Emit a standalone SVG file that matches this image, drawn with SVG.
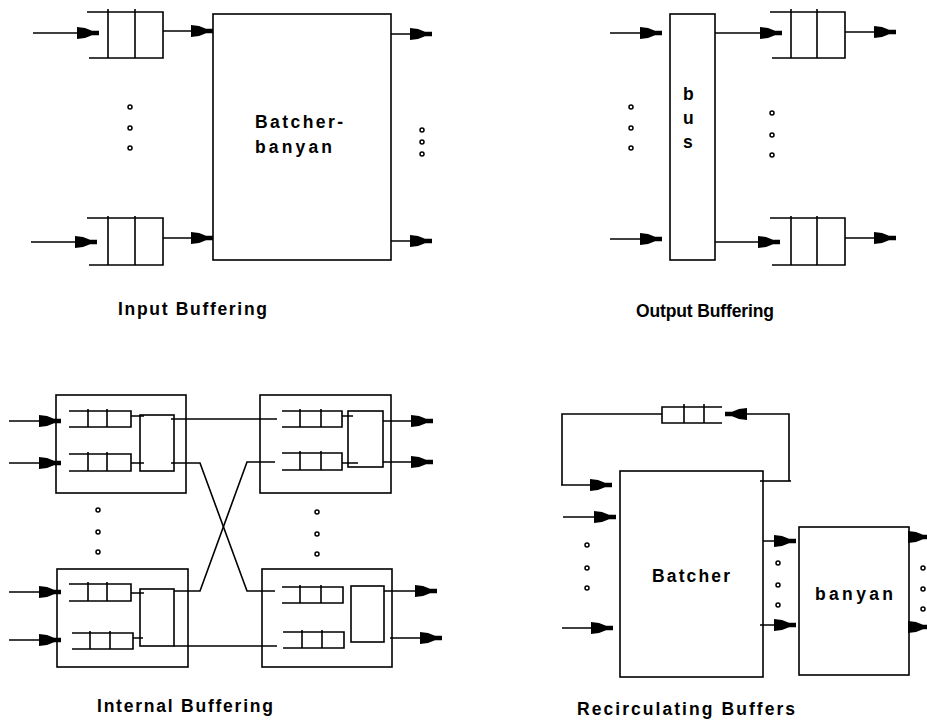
<svg xmlns="http://www.w3.org/2000/svg" width="927" height="725" viewBox="0 0 927 725">
<style>
.l{fill:none;stroke:#000;stroke-width:1.6}
.a{fill:none;stroke:#000;stroke-width:1.6;marker-end:url(#ah)}
.d{fill:none;stroke:#000;stroke-width:1.5}
.t{font-family:"Liberation Sans",Arial,sans-serif;font-size:17.5px;font-weight:bold;fill:#000}
</style>
<defs>
<marker id="ah" markerUnits="userSpaceOnUse" markerWidth="23" markerHeight="14" refX="22" refY="6.5" orient="auto" overflow="visible">
<path d="M0,0.5 L8,1.5 L15,4.2 L22,4.2 L22,8.8 L15,8.8 L8,11.5 L0,12.5 Z" fill="#000"/>
</marker>
</defs>
<rect width="927" height="725" fill="#fff"/>

<g id="input-buffering">
  <g id="ib-q1"><path class="l" d="M87,12 H163 V58 H89 M108,9 V58 M135,9 V58"/></g>
  <g id="ib-q2"><path class="l" d="M87,218 H163 V265 H89 M108,216 V265 M135,216 V265"/></g>
  <g id="ib-box"><rect class="l" x="213" y="14" width="178" height="246"/>
    <text class="t" x="255" y="128" textLength="88" lengthAdjust="spacing">Batcher-</text>
    <text class="t" x="255" y="153" textLength="77" lengthAdjust="spacing">banyan</text>
  </g>
  <g id="ib-dots" class="d"><circle cx="130" cy="107" r="2"/><circle cx="130" cy="128" r="2"/><circle cx="130" cy="148" r="2"/>
    <circle cx="422" cy="130" r="2"/><circle cx="422" cy="142" r="2"/><circle cx="422" cy="154" r="2"/></g>
  <text class="t" x="118" y="315" textLength="149" lengthAdjust="spacing">Input Buffering</text>
</g>

<g id="output-buffering">
  <g id="ob-bus"><rect class="l" x="670" y="14" width="45" height="246"/>
    <text class="t" x="683" y="100">b</text><text class="t" x="683" y="124">u</text><text class="t" x="683" y="148">s</text>
  </g>
  <g id="ob-q1"><path class="l" d="M770,12 H845 V58 H772 M791,9 V58 M817,9 V58"/></g>
  <g id="ob-q2"><path class="l" d="M770,218 H845 V265 H772 M791,216 V265 M817,216 V265"/></g>
  <g id="ob-dots" class="d"><circle cx="631" cy="107" r="2"/><circle cx="631" cy="128" r="2"/><circle cx="631" cy="148" r="2"/>
    <circle cx="772" cy="113" r="2"/><circle cx="772" cy="135" r="2"/><circle cx="772" cy="155" r="2"/></g>
  <text class="t" x="636" y="317" textLength="138" lengthAdjust="spacing">Output Buffering</text>
</g>

<g id="internal-buffering">
  <g id="m-tl"><rect class="l" x="56" y="395" width="130" height="98"/>
    <path class="l" d="M69,411 H131 V427 H69 M88,409 V427 M107,409 V427"/>
    <path class="l" d="M69,454 H131 V471 H69 M88,452 V471 M107,452 V471"/>
    <rect class="l" x="140" y="415" width="34" height="56"/>
  </g>
  <g id="m-tr"><rect class="l" x="260" y="395" width="131" height="98"/>
    <path class="l" d="M282,411 H342 V427 H282 M300,409 V427 M321,409 V427"/>
    <path class="l" d="M282,453 H342 V470 H282 M300,451 V470 M321,451 V470"/>
    <rect class="l" x="348" y="411" width="35" height="56"/>
  </g>
  <g id="m-bl"><rect class="l" x="57" y="569" width="131" height="98"/>
    <path class="l" d="M69,584 H131 V601 H69 M88,582 V601 M107,582 V601"/>
    <path class="l" d="M72,633 H133 V649 H72 M90,631 V649 M110,631 V649"/>
    <rect class="l" x="140" y="589" width="34" height="57"/>
  </g>
  <g id="m-br"><rect class="l" x="262" y="569" width="130" height="98"/>
    <path class="l" d="M282,587 H343 V603 H282 M300,585 V603 M321,585 V603"/>
    <path class="l" d="M283,632 H344 V648 H283 M302,630 V648 M322,630 V648"/>
    <rect class="l" x="351" y="586" width="33" height="56"/>
  </g>
  <g id="ib2-dots" class="d"><circle cx="98" cy="510" r="2"/><circle cx="98" cy="532" r="2"/><circle cx="98" cy="552" r="2"/>
    <circle cx="317" cy="512" r="2"/><circle cx="317" cy="534" r="2"/><circle cx="317" cy="554" r="2"/></g>
  <text class="t" x="97" y="712" textLength="176" lengthAdjust="spacing">Internal Buffering</text>
</g>

<g id="recirculating">
  <g id="rc-q"><path class="l" d="M722,407 H662 V423 H722 M684,404 V423 M704,404 V423"/></g>
  <g id="rc-batcher"><rect class="l" x="620" y="471" width="143" height="206"/>
    <text class="t" x="652" y="582" textLength="78" lengthAdjust="spacing">Batcher</text></g>
  <g id="rc-banyan"><rect class="l" x="799" y="527" width="110" height="148"/>
    <text class="t" x="815" y="600" textLength="78" lengthAdjust="spacing">banyan</text></g>
  <g id="rc-dots" class="d"><circle cx="587" cy="545" r="2"/><circle cx="587" cy="568" r="2"/><circle cx="587" cy="588" r="2"/>
    <circle cx="778" cy="563" r="2"/><circle cx="778" cy="585" r="2"/><circle cx="778" cy="605" r="2"/>
    <circle cx="923" cy="568" r="2"/><circle cx="923" cy="589" r="2"/><circle cx="923" cy="609" r="2"/></g>
  <text class="t" x="577" y="715" textLength="218" lengthAdjust="spacing">Recirculating Buffers</text>
</g>

<g id="connectors">
  <path class="a" d="M33,33 H99"/>
  <path class="a" d="M31,242 H97"/>
  <path class="a" d="M163,31 H213"/>
  <path class="a" d="M163,238 H213"/>
  <path class="a" d="M391,34 H432"/>
  <path class="a" d="M391,241 H432"/>
  <path class="a" d="M610,33 H662"/>
  <path class="a" d="M610,239 H662"/>
  <path class="a" d="M715,33 H782"/>
  <path class="a" d="M715,242 H780"/>
  <path class="a" d="M845,32 H896"/>
  <path class="a" d="M845,238 H896"/>
  <path class="a" d="M9,421 H61"/>
  <path class="a" d="M9,463 H61"/>
  <path class="a" d="M9,592 H61"/>
  <path class="a" d="M9,640 H61"/>
  <path class="l" d="M131,416 H144 M131,463 H144"/>
  <path class="l" d="M342,416 H353 M342,463 H358"/>
  <path class="l" d="M131,593 H144 M133,638 H143"/>
  <path class="l" d="M171,419 H277"/>
  <path class="l" d="M171,463 H200 L247,591 H275"/>
  <path class="l" d="M174,591 H200 L247,462 H275"/>
  <path class="l" d="M174,646 H277"/>
  <path class="a" d="M383,421 H433"/>
  <path class="a" d="M383,462 H433"/>
  <path class="a" d="M384,591 H437"/>
  <path class="a" d="M390,638 H442"/>
  <path class="l" d="M662,414 H562 V485"/>
  <path class="a" d="M789,481 V414 H725"/>
  <path class="l" d="M760,481 H791"/>
  <path class="a" d="M561,485 H612"/>
  <path class="a" d="M563,517 H616"/>
  <path class="a" d="M562,628 H613"/>
  <path class="a" d="M763,541 H796"/>
  <path class="a" d="M760,625 H796"/>
  <path class="a" d="M909,537 H930"/>
  <path class="a" d="M909,627 H930"/>
</g>
</svg>
